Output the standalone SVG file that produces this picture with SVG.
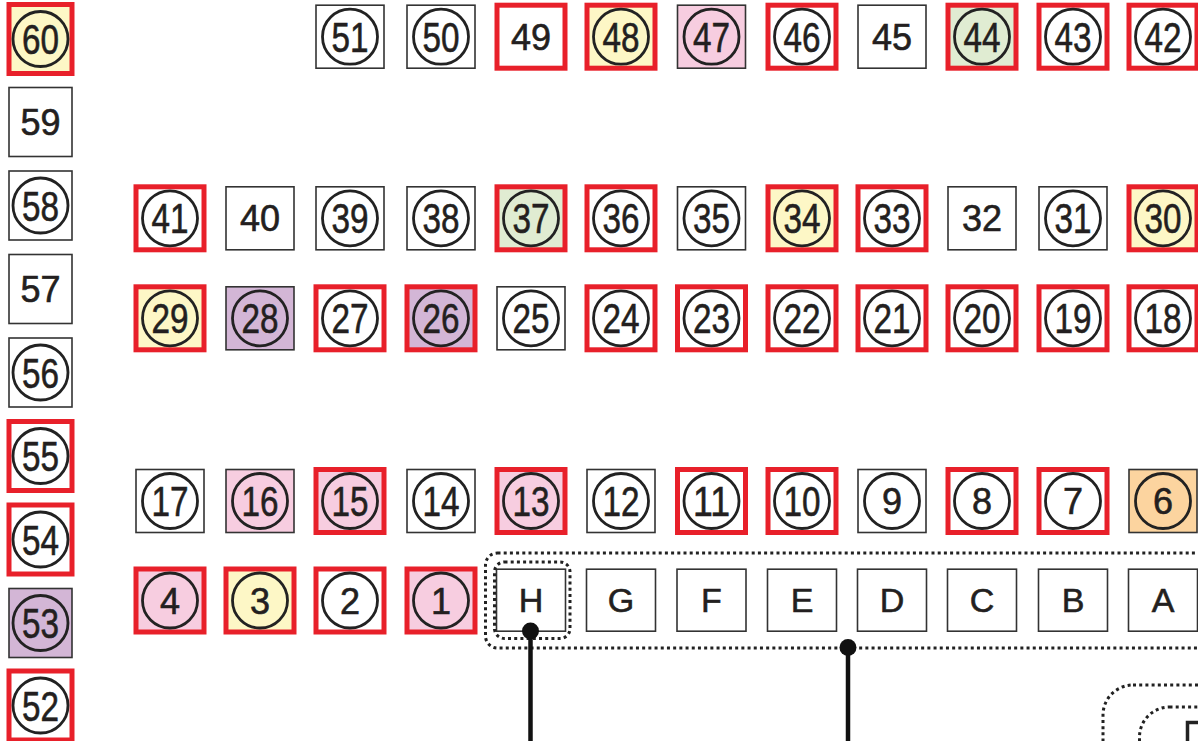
<svg xmlns="http://www.w3.org/2000/svg" width="1198" height="741" viewBox="0 0 1198 741">
<style>
rect.b{fill:#fff;stroke:#333;stroke-width:1.6}
rect.r{fill:#fff;stroke:#e8202a;stroke-width:5}
rect.y{fill:#fdf7c6}
rect.p{fill:#f7cde0}
rect.u{fill:#d3b6d6}
rect.g{fill:#e0ecd2}
rect.o{fill:#fcd49f}
circle.c{fill:none;stroke:#222;stroke-width:2.8}
text{font-family:"Liberation Sans",Arial,sans-serif;fill:#231f20;stroke:#231f20;stroke-width:0.6;text-anchor:middle}
.t2{font-size:42px}
.t1{font-size:36px}
.tn{font-size:36px}
.tl{font-size:34px}
.dot{fill:none;stroke:#222;stroke-width:3;stroke-dasharray:3 3.2}
.ln{stroke:#111;stroke-width:4.5;fill:none}
</style>

<!-- left column -->
<g id="n60" transform="translate(40.5,39)"><rect class="r y" x="-31.5" y="-34.5" width="63" height="69"/><circle class="c" r="27.5"/><text class="t2" y="15" textLength="37" lengthAdjust="spacingAndGlyphs">60</text></g>
<g id="n59" transform="translate(40.5,122)"><rect class="b" x="-31.5" y="-34.5" width="63" height="69"/><text class="tn" y="13">59</text></g>
<g id="n58" transform="translate(40.5,205.5)"><rect class="b" x="-31.5" y="-34.5" width="63" height="69"/><circle class="c" r="27.5"/><text class="t2" y="15" textLength="37" lengthAdjust="spacingAndGlyphs">58</text></g>
<g id="n57" transform="translate(40.5,289)"><rect class="b" x="-31.5" y="-34.5" width="63" height="69"/><text class="tn" y="13">57</text></g>
<g id="n56" transform="translate(40.5,372.5)"><rect class="b" x="-31.5" y="-34.5" width="63" height="69"/><circle class="c" r="27.5"/><text class="t2" y="15" textLength="37" lengthAdjust="spacingAndGlyphs">56</text></g>
<g id="n55" transform="translate(40.5,456)"><rect class="r" x="-31.5" y="-34.5" width="63" height="69"/><circle class="c" r="27.5"/><text class="t2" y="15" textLength="37" lengthAdjust="spacingAndGlyphs">55</text></g>
<g id="n54" transform="translate(40.5,539.5)"><rect class="r" x="-31.5" y="-34.5" width="63" height="69"/><circle class="c" r="27.5"/><text class="t2" y="15" textLength="37" lengthAdjust="spacingAndGlyphs">54</text></g>
<g id="n53" transform="translate(40.5,623)"><rect class="b u" x="-31.5" y="-34.5" width="63" height="69"/><circle class="c" r="27.5"/><text class="t2" y="15" textLength="37" lengthAdjust="spacingAndGlyphs">53</text></g>
<g id="n52" transform="translate(40.5,705.5)"><rect class="r" x="-31.5" y="-34.5" width="63" height="69"/><circle class="c" r="27.5"/><text class="t2" y="15" textLength="37" lengthAdjust="spacingAndGlyphs">52</text></g>

<!-- top row -->
<g id="n51" transform="translate(350,36.7)"><rect class="b" x="-34" y="-31.5" width="68" height="63"/><circle class="c" r="27.5"/><text class="t2" y="15" textLength="37" lengthAdjust="spacingAndGlyphs">51</text></g>
<g id="n50" transform="translate(441,36.7)"><rect class="b" x="-34" y="-31.5" width="68" height="63"/><circle class="c" r="27.5"/><text class="t2" y="15" textLength="37" lengthAdjust="spacingAndGlyphs">50</text></g>
<g id="n49" transform="translate(531,36.7)"><rect class="r" x="-34" y="-31.5" width="68" height="63"/><text class="tn" y="13">49</text></g>
<g id="n48" transform="translate(621,36.7)"><rect class="r y" x="-34" y="-31.5" width="68" height="63"/><circle class="c" r="27.5"/><text class="t2" y="15" textLength="37" lengthAdjust="spacingAndGlyphs">48</text></g>
<g id="n47" transform="translate(711.5,36.7)"><rect class="b p" x="-34" y="-31.5" width="68" height="63"/><circle class="c" r="27.5"/><text class="t2" y="15" textLength="37" lengthAdjust="spacingAndGlyphs">47</text></g>
<g id="n46" transform="translate(802,36.7)"><rect class="r" x="-34" y="-31.5" width="68" height="63"/><circle class="c" r="27.5"/><text class="t2" y="15" textLength="37" lengthAdjust="spacingAndGlyphs">46</text></g>
<g id="n45" transform="translate(892,36.7)"><rect class="b" x="-34" y="-31.5" width="68" height="63"/><text class="tn" y="13">45</text></g>
<g id="n44" transform="translate(982,36.7)"><rect class="r g" x="-34" y="-31.5" width="68" height="63"/><circle class="c" r="27.5"/><text class="t2" y="15" textLength="37" lengthAdjust="spacingAndGlyphs">44</text></g>
<g id="n43" transform="translate(1073,36.7)"><rect class="r" x="-34" y="-31.5" width="68" height="63"/><circle class="c" r="27.5"/><text class="t2" y="15" textLength="37" lengthAdjust="spacingAndGlyphs">43</text></g>
<g id="n42" transform="translate(1163,36.7)"><rect class="r" x="-34" y="-31.5" width="68" height="63"/><circle class="c" r="27.5"/><text class="t2" y="15" textLength="37" lengthAdjust="spacingAndGlyphs">42</text></g>

<!-- row 41-30 -->
<g id="n41" transform="translate(170,218.3)"><rect class="r" x="-34" y="-31.5" width="68" height="63"/><circle class="c" r="27.5"/><text class="t2" y="15" textLength="37" lengthAdjust="spacingAndGlyphs">41</text></g>
<g id="n40" transform="translate(260,218.3)"><rect class="b" x="-34" y="-31.5" width="68" height="63"/><text class="tn" y="13">40</text></g>
<g id="n39" transform="translate(350,218.3)"><rect class="b" x="-34" y="-31.5" width="68" height="63"/><circle class="c" r="27.5"/><text class="t2" y="15" textLength="37" lengthAdjust="spacingAndGlyphs">39</text></g>
<g id="n38" transform="translate(441,218.3)"><rect class="b" x="-34" y="-31.5" width="68" height="63"/><circle class="c" r="27.5"/><text class="t2" y="15" textLength="37" lengthAdjust="spacingAndGlyphs">38</text></g>
<g id="n37" transform="translate(531,218.3)"><rect class="r g" x="-34" y="-31.5" width="68" height="63"/><circle class="c" r="27.5"/><text class="t2" y="15" textLength="37" lengthAdjust="spacingAndGlyphs">37</text></g>
<g id="n36" transform="translate(621,218.3)"><rect class="r" x="-34" y="-31.5" width="68" height="63"/><circle class="c" r="27.5"/><text class="t2" y="15" textLength="37" lengthAdjust="spacingAndGlyphs">36</text></g>
<g id="n35" transform="translate(711.5,218.3)"><rect class="b" x="-34" y="-31.5" width="68" height="63"/><circle class="c" r="27.5"/><text class="t2" y="15" textLength="37" lengthAdjust="spacingAndGlyphs">35</text></g>
<g id="n34" transform="translate(802,218.3)"><rect class="r y" x="-34" y="-31.5" width="68" height="63"/><circle class="c" r="27.5"/><text class="t2" y="15" textLength="37" lengthAdjust="spacingAndGlyphs">34</text></g>
<g id="n33" transform="translate(892,218.3)"><rect class="r" x="-34" y="-31.5" width="68" height="63"/><circle class="c" r="27.5"/><text class="t2" y="15" textLength="37" lengthAdjust="spacingAndGlyphs">33</text></g>
<g id="n32" transform="translate(982,218.3)"><rect class="b" x="-34" y="-31.5" width="68" height="63"/><text class="tn" y="13">32</text></g>
<g id="n31" transform="translate(1073,218.3)"><rect class="b" x="-34" y="-31.5" width="68" height="63"/><circle class="c" r="27.5"/><text class="t2" y="15" textLength="37" lengthAdjust="spacingAndGlyphs">31</text></g>
<g id="n30" transform="translate(1163,218.3)"><rect class="r y" x="-34" y="-31.5" width="68" height="63"/><circle class="c" r="27.5"/><text class="t2" y="15" textLength="37" lengthAdjust="spacingAndGlyphs">30</text></g>

<!-- row 29-18 -->
<g id="n29" transform="translate(170,318.3)"><rect class="r y" x="-34" y="-31.5" width="68" height="63"/><circle class="c" r="27.5"/><text class="t2" y="15" textLength="37" lengthAdjust="spacingAndGlyphs">29</text></g>
<g id="n28" transform="translate(260,318.3)"><rect class="b u" x="-34" y="-31.5" width="68" height="63"/><circle class="c" r="27.5"/><text class="t2" y="15" textLength="37" lengthAdjust="spacingAndGlyphs">28</text></g>
<g id="n27" transform="translate(350,318.3)"><rect class="r" x="-34" y="-31.5" width="68" height="63"/><circle class="c" r="27.5"/><text class="t2" y="15" textLength="37" lengthAdjust="spacingAndGlyphs">27</text></g>
<g id="n26" transform="translate(441,318.3)"><rect class="r u" x="-34" y="-31.5" width="68" height="63"/><circle class="c" r="27.5"/><text class="t2" y="15" textLength="37" lengthAdjust="spacingAndGlyphs">26</text></g>
<g id="n25" transform="translate(531,318.3)"><rect class="b" x="-34" y="-31.5" width="68" height="63"/><circle class="c" r="27.5"/><text class="t2" y="15" textLength="37" lengthAdjust="spacingAndGlyphs">25</text></g>
<g id="n24" transform="translate(621,318.3)"><rect class="r" x="-34" y="-31.5" width="68" height="63"/><circle class="c" r="27.5"/><text class="t2" y="15" textLength="37" lengthAdjust="spacingAndGlyphs">24</text></g>
<g id="n23" transform="translate(711.5,318.3)"><rect class="r" x="-34" y="-31.5" width="68" height="63"/><circle class="c" r="27.5"/><text class="t2" y="15" textLength="37" lengthAdjust="spacingAndGlyphs">23</text></g>
<g id="n22" transform="translate(802,318.3)"><rect class="r" x="-34" y="-31.5" width="68" height="63"/><circle class="c" r="27.5"/><text class="t2" y="15" textLength="37" lengthAdjust="spacingAndGlyphs">22</text></g>
<g id="n21" transform="translate(892,318.3)"><rect class="r" x="-34" y="-31.5" width="68" height="63"/><circle class="c" r="27.5"/><text class="t2" y="15" textLength="37" lengthAdjust="spacingAndGlyphs">21</text></g>
<g id="n20" transform="translate(982,318.3)"><rect class="r" x="-34" y="-31.5" width="68" height="63"/><circle class="c" r="27.5"/><text class="t2" y="15" textLength="37" lengthAdjust="spacingAndGlyphs">20</text></g>
<g id="n19" transform="translate(1073,318.3)"><rect class="r" x="-34" y="-31.5" width="68" height="63"/><circle class="c" r="27.5"/><text class="t2" y="15" textLength="37" lengthAdjust="spacingAndGlyphs">19</text></g>
<g id="n18" transform="translate(1163,318.3)"><rect class="r" x="-34" y="-31.5" width="68" height="63"/><circle class="c" r="27.5"/><text class="t2" y="15" textLength="37" lengthAdjust="spacingAndGlyphs">18</text></g>

<!-- row 17-6 -->
<g id="n17" transform="translate(170,501)"><rect class="b" x="-34" y="-31.5" width="68" height="63"/><circle class="c" r="27.5"/><text class="t2" y="15" textLength="37" lengthAdjust="spacingAndGlyphs">17</text></g>
<g id="n16" transform="translate(260,501)"><rect class="b p" x="-34" y="-31.5" width="68" height="63"/><circle class="c" r="27.5"/><text class="t2" y="15" textLength="37" lengthAdjust="spacingAndGlyphs">16</text></g>
<g id="n15" transform="translate(350,501)"><rect class="r p" x="-34" y="-31.5" width="68" height="63"/><circle class="c" r="27.5"/><text class="t2" y="15" textLength="37" lengthAdjust="spacingAndGlyphs">15</text></g>
<g id="n14" transform="translate(441,501)"><rect class="b" x="-34" y="-31.5" width="68" height="63"/><circle class="c" r="27.5"/><text class="t2" y="15" textLength="37" lengthAdjust="spacingAndGlyphs">14</text></g>
<g id="n13" transform="translate(531,501)"><rect class="r p" x="-34" y="-31.5" width="68" height="63"/><circle class="c" r="27.5"/><text class="t2" y="15" textLength="37" lengthAdjust="spacingAndGlyphs">13</text></g>
<g id="n12" transform="translate(621,501)"><rect class="b" x="-34" y="-31.5" width="68" height="63"/><circle class="c" r="27.5"/><text class="t2" y="15" textLength="37" lengthAdjust="spacingAndGlyphs">12</text></g>
<g id="n11" transform="translate(711.5,501)"><rect class="r" x="-34" y="-31.5" width="68" height="63"/><circle class="c" r="27.5"/><text class="t2" y="15" textLength="37" lengthAdjust="spacingAndGlyphs">11</text></g>
<g id="n10" transform="translate(802,501)"><rect class="r" x="-34" y="-31.5" width="68" height="63"/><circle class="c" r="27.5"/><text class="t2" y="15" textLength="37" lengthAdjust="spacingAndGlyphs">10</text></g>
<g id="n9" transform="translate(892,501)"><rect class="b" x="-34" y="-31.5" width="68" height="63"/><circle class="c" r="27.5"/><text class="t1" y="13">9</text></g>
<g id="n8" transform="translate(982,501)"><rect class="r" x="-34" y="-31.5" width="68" height="63"/><circle class="c" r="27.5"/><text class="t1" y="13">8</text></g>
<g id="n7" transform="translate(1073,501)"><rect class="r" x="-34" y="-31.5" width="68" height="63"/><circle class="c" r="27.5"/><text class="t1" y="13">7</text></g>
<g id="n6" transform="translate(1163,501)"><rect class="b o" x="-34" y="-31.5" width="68" height="63"/><circle class="c" r="27.5"/><text class="t1" y="13">6</text></g>

<!-- row 4-1 and letters -->
<g id="n4" transform="translate(170,600.5)"><rect class="r p" x="-34" y="-31.5" width="68" height="63"/><circle class="c" r="27.5"/><text class="t1" y="13">4</text></g>
<g id="n3" transform="translate(260,600.5)"><rect class="r y" x="-34" y="-31.5" width="68" height="63"/><circle class="c" r="27.5"/><text class="t1" y="13">3</text></g>
<g id="n2" transform="translate(350,600.5)"><rect class="r" x="-34" y="-31.5" width="68" height="63"/><circle class="c" r="27.5"/><text class="t1" y="13">2</text></g>
<g id="n1" transform="translate(441,600.5)"><rect class="r p" x="-34" y="-31.5" width="68" height="63"/><circle class="c" r="27.5"/><text class="t1" y="13">1</text></g>
<g id="nH" transform="translate(531,600.2)"><rect class="b" x="-34.5" y="-31" width="69" height="62"/><text class="tl" y="12">H</text></g>
<g id="nG" transform="translate(621,600.2)"><rect class="b" x="-34.5" y="-31" width="69" height="62"/><text class="tl" y="12">G</text></g>
<g id="nF" transform="translate(711.5,600.2)"><rect class="b" x="-34.5" y="-31" width="69" height="62"/><text class="tl" y="12">F</text></g>
<g id="nE" transform="translate(802,600.2)"><rect class="b" x="-34.5" y="-31" width="69" height="62"/><text class="tl" y="12">E</text></g>
<g id="nD" transform="translate(892,600.2)"><rect class="b" x="-34.5" y="-31" width="69" height="62"/><text class="tl" y="12">D</text></g>
<g id="nC" transform="translate(982,600.2)"><rect class="b" x="-34.5" y="-31" width="69" height="62"/><text class="tl" y="12">C</text></g>
<g id="nB" transform="translate(1073,600.2)"><rect class="b" x="-34.5" y="-31" width="69" height="62"/><text class="tl" y="12">B</text></g>
<g id="nA" transform="translate(1163,600.2)"><rect class="b" x="-34.5" y="-31" width="69" height="62"/><text class="tl" y="12">A</text></g>

<!-- groupings -->
<g id="groups">
<rect class="dot" x="485.5" y="553" width="800" height="95" rx="12"/>
<rect class="dot" x="494.5" y="562" width="75.5" height="76.5" rx="10"/>
<rect class="dot" x="1103" y="685" width="200" height="120" rx="30"/>
<rect class="dot" x="1139.5" y="707" width="150" height="100" rx="30"/>
<rect x="1187.5" y="722.5" width="40" height="40" fill="#fff" stroke="#222" stroke-width="3.5"/>
</g>

<!-- connectors -->
<g id="connectors">
<line class="ln" x1="530.5" y1="631" x2="530.5" y2="741"/>
<circle cx="530.5" cy="631" r="8.5" fill="#111"/>
<line class="ln" x1="848" y1="647.5" x2="848" y2="741"/>
<circle cx="848" cy="647.5" r="8.5" fill="#111"/>
</g>
</svg>
